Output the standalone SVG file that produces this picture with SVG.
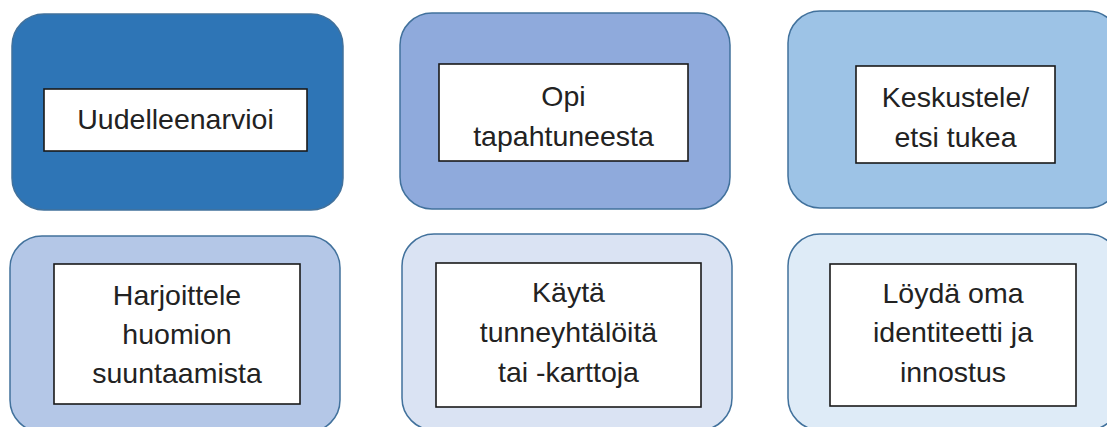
<svg xmlns="http://www.w3.org/2000/svg" width="1107" height="427" viewBox="0 0 1107 427">
  <style>
    .outer { stroke: #41719c; stroke-width: 1.5; }
    .inner { fill: #ffffff; stroke: #1a1a1a; stroke-width: 1.6; }
    .label { font-family: "Liberation Sans", Arial, sans-serif; font-size: 28.5px; fill: #222222; text-anchor: middle; }
  </style>
  <rect width="1107" height="427" fill="#ffffff"/>

  <g id="connectors"></g>

  <!-- top row -->
  <g id="node-uudelleenarvioi">
    <rect class="outer" x="12" y="14" width="331" height="196" rx="32" fill="#2e75b6"/>
    <rect class="inner" x="44" y="89" width="263" height="62"/>
    <text class="label" x="175.5" y="129">Uudelleenarvioi</text>
  </g>

  <g id="node-opi">
    <rect class="outer" x="400" y="13" width="330" height="196" rx="32" fill="#8faadc"/>
    <rect class="inner" x="439" y="64" width="249" height="97"/>
    <text class="label" x="563.5" y="106">Opi</text>
    <text class="label" x="563.5" y="146">tapahtuneesta</text>
  </g>

  <g id="node-keskustele">
    <rect class="outer" x="788" y="11" width="332" height="197" rx="32" fill="#9dc3e6"/>
    <rect class="inner" x="856" y="66" width="199" height="97"/>
    <text class="label" x="955.5" y="107">Keskustele/</text>
    <text class="label" x="955.5" y="147">etsi tukea</text>
  </g>

  <!-- bottom row -->
  <g id="node-harjoittele">
    <rect class="outer" x="10" y="236" width="330" height="196" rx="32" fill="#b4c7e7"/>
    <rect class="inner" x="54" y="264" width="246" height="140"/>
    <text class="label" x="177" y="305">Harjoittele</text>
    <text class="label" x="177" y="344">huomion</text>
    <text class="label" x="177" y="383">suuntaamista</text>
  </g>

  <g id="node-kayta">
    <rect class="outer" x="402" y="234" width="330" height="196" rx="32" fill="#dae3f3"/>
    <rect class="inner" x="436" y="263" width="265" height="144"/>
    <text class="label" x="568.5" y="302">Käytä</text>
    <text class="label" x="568.5" y="342">tunneyhtälöitä</text>
    <text class="label" x="568.5" y="382">tai -karttoja</text>
  </g>

  <g id="node-loyda">
    <rect class="outer" x="788" y="234" width="332" height="196" rx="32" fill="#deebf7"/>
    <rect class="inner" x="830" y="264" width="246" height="142"/>
    <text class="label" x="953" y="303">Löydä oma</text>
    <text class="label" x="953" y="342">identiteetti ja</text>
    <text class="label" x="953" y="382">innostus</text>
  </g>
</svg>
